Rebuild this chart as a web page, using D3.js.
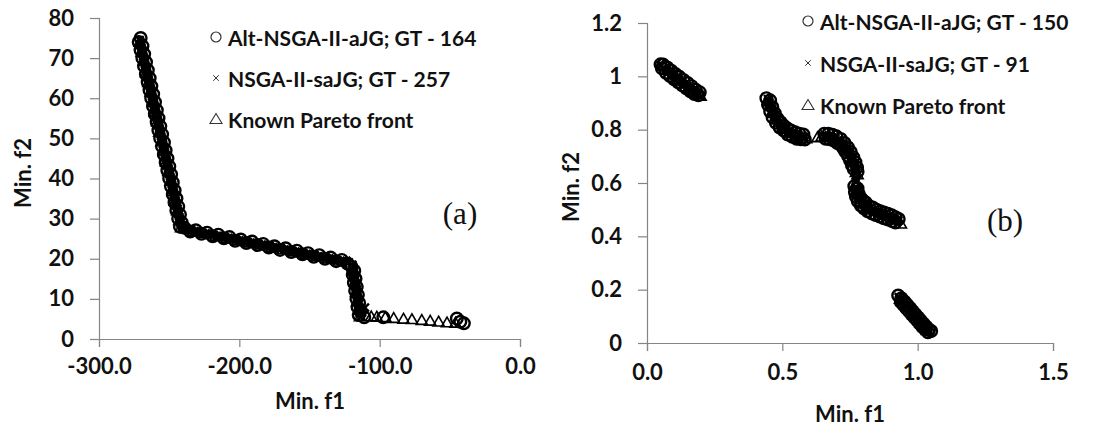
<!DOCTYPE html>
<html>
<head>
<meta charset="utf-8">
<script src="https://cdn.jsdelivr.net/npm/d3@7"></script>
<style>
  html, body { margin: 0; padding: 0; background: #fff; }
  svg { display: block; }
</style>
</head>
<body>
<svg id="chart" width="1093" height="425"></svg>
<script>
// ---------------- Panel (a) data ----------------
const legendA = ["Alt-NSGA-II-aJG; GT - 164", "NSGA-II-saJG; GT - 257", "Known Pareto front"];
const xTicksA = [-300, -200, -100, 0];
const yTicksA = [0, 10, 20, 30, 40, 50, 60, 70, 80];

const altA = [
  // steep upper part
  [-270.3,75],[-271.7,74],[-269.0,73],[-270.4,72],[-267.8,71],[-269.1,70],[-266.5,69],[-267.9,68],
  [-265.2,67],[-266.6,66],[-263.9,65],[-265.3,64],[-262.7,63],[-264.0,62],[-261.4,61],[-262.8,60],
  [-260.1,59],[-261.5,58],[-258.8,57],[-260.2,56],[-257.6,55],[-258.9,54],[-256.3,53],[-257.7,52],
  [-255.0,51],[-256.4,50],[-253.7,49],[-255.1,48],[-252.5,47],[-253.8,46],[-251.2,45],[-252.5,44],
  [-249.9,43],[-251.3,42],[-248.6,41],[-250.0,40],[-247.4,39],[-248.7,38],[-246.1,37],[-247.4,36],
  [-244.8,35],[-246.2,34],[-243.5,33],[-244.9,32],[-242.3,31],[-243.6,30],[-241.0,29],[-242.3,28],
  // gentle middle part
  [-239,27.7],[-235,26.8],[-231,27.1],[-227,26.2],[-223,26.5],[-219,25.6],[-215,26.0],[-211,25.1],
  [-207,25.4],[-203,24.5],[-199,24.8],[-195,23.9],[-191,24.3],[-187,23.4],[-183,23.7],[-179,22.8],
  [-175,23.1],[-171,22.2],[-167,22.6],[-163,21.7],[-159,22.0],[-155,21.1],[-151,21.4],[-147,20.5],
  [-143,20.9],[-139,20.0],[-135,20.3],[-131,19.4],[-127,19.7],[-123,18.8],
  // steep lower part
  [-120.1,18],[-118.1,17],[-119.2,16],[-117.2,15],[-118.4,14],[-116.3,13],[-117.5,12],[-115.5,11],
  [-116.6,10],[-114.6,9],[-115.8,8],[-113.7,7],[-114.9,6],
  // tail
  [-111,5.4],[-97.4,5.4],[-45,5.1],[-42.5,4.3],[-40,3.9]
];
const nsgaA = [
  [-271.0,74.5],[-270.4,73.5],[-269.7,72.5],[-269.1,71.5],[-268.5,70.5],[-267.8,69.5],[-267.2,68.5],[-266.5,67.5],
  [-265.9,66.5],[-265.3,65.5],[-264.6,64.5],[-264.0,63.5],[-263.3,62.5],[-262.7,61.5],[-262.1,60.5],[-261.4,59.5],
  [-260.8,58.5],[-260.2,57.5],[-259.5,56.5],[-258.9,55.5],[-258.2,54.5],[-257.6,53.5],[-257.0,52.5],[-256.3,51.5],
  [-255.7,50.5],[-255.1,49.5],[-254.4,48.5],[-253.8,47.5],[-253.1,46.5],[-252.5,45.5],[-251.9,44.5],[-251.2,43.5],
  [-250.6,42.5],[-250.0,41.5],[-249.3,40.5],[-248.7,39.5],[-248.0,38.5],[-247.4,37.5],[-246.8,36.5],[-246.1,35.5],
  [-245.5,34.5],[-244.8,33.5],[-244.2,32.5],[-243.6,31.5],[-242.9,30.5],[-242.3,29.5],[-241.7,28.5],[-241.0,27.5],
  [-240,27.4],[-238,27.3],[-236,27.2],[-234,27.0],[-232,26.9],[-230,26.7],[-228,26.6],[-226,26.4],
  [-224,26.3],[-222,26.2],[-220,26.0],[-218,25.9],[-216,25.7],[-214,25.6],[-212,25.5],[-210,25.3],
  [-208,25.2],[-206,25.0],[-204,24.9],[-202,24.7],[-200,24.6],[-198,24.5],[-196,24.3],[-194,24.2],
  [-192,24.0],[-190,23.9],[-188,23.8],[-186,23.6],[-184,23.5],[-182,23.3],[-180,23.2],[-178,23.0],
  [-176,22.9],[-174,22.8],[-172,22.6],[-170,22.5],[-168,22.3],[-166,22.2],[-164,22.1],[-162,21.9],
  [-160,21.8],[-158,21.6],[-156,21.5],[-154,21.3],[-152,21.2],[-150,21.1],[-148,20.9],[-146,20.8],
  [-144,20.6],[-142,20.5],[-140,20.4],[-138,20.2],[-136,20.1],[-134,19.9],[-132,19.8],[-130,19.6],
  [-128,19.5],[-126,19.4],[-124,19.2],[-122,19.1],
  [-119.5,18.5],[-119.1,17.5],[-118.6,16.5],[-118.2,15.5],[-117.8,14.5],[-117.3,13.5],[-116.9,12.5],
  [-116.5,11.5],[-116.0,10.5],[-115.6,9.5],[-115.2,8.5],[-114.7,7.5],[-114.3,6.5],[-113.9,5.5],
  [-112.5,6.6],[-110.5,7.8]
];
const paretoA = [
  [-271,74],[-269.6,71.6],[-268,69.2],[-266.3,66.4],[-264.8,64],[-263.2,61.6],[-261.6,59],[-260,56.6],
  [-258.5,54.2],[-257,51.6],[-255.4,49.2],[-253.8,46.8],[-252.2,44.2],[-250.6,41.8],[-249,39.4],[-247.5,36.8],
  [-245.9,34.4],[-244.3,32],[-242.7,29.6],[-241.5,27.8],
  [-233,26.9],[-225,26.3],[-217,25.7],[-209,25.2],[-201,24.6],[-193,24.0],[-185,23.5],[-177,22.9],
  [-169,22.3],[-161,21.8],[-153,21.2],[-145,20.7],[-137,20.1],[-129,19.5],[-121.5,19],
  [-118.7,16.8],[-117.8,14.2],[-116.8,11.8],[-116,9.4],[-115,7.2],[-114,5.6],
  [-106,5.6],[-102,5.5],[-96,5.4],[-90,5.2],[-83,5.0],[-77,4.9],[-70,4.7],[-64,4.5],[-58,4.3],[-52,4.1],[-46,4.0]
];

// ---------------- Panel (b) data ----------------
const legendB = ["Alt-NSGA-II-aJG; GT - 150", "NSGA-II-saJG; GT - 91", "Known Pareto front"];
const xTicksB = [0, 0.5, 1.0, 1.5];
const yTicksB = [0, 0.2, 0.4, 0.6, 0.8, 1, 1.2];

const altB = [
  [0.05,1.045],[0.055,1.03],[0.06,1.044],[0.07,1.013],[0.075,1.033],[0.085,1.001],[0.09,1.021],[0.10,0.989],
  [0.105,1.009],[0.115,0.978],[0.12,0.998],[0.13,0.966],[0.135,0.986],[0.145,0.955],[0.15,0.975],[0.16,0.944],
  [0.165,0.963],[0.175,0.934],[0.18,0.950],[0.19,0.929],[0.195,0.94],
  [0.441,0.918],[0.455,0.91],[0.447,0.893],[0.463,0.885],[0.455,0.868],[0.472,0.862],[0.464,0.846],[0.482,0.842],
  [0.476,0.826],[0.494,0.828],[0.49,0.808],[0.505,0.815],[0.505,0.797],[0.518,0.805],[0.52,0.782],[0.532,0.797],
  [0.537,0.773],[0.548,0.79],[0.553,0.766],[0.563,0.785],[0.568,0.764],[0.578,0.782],[0.583,0.763],
  [0.655,0.785],[0.66,0.766],[0.67,0.785],[0.675,0.764],[0.685,0.781],[0.69,0.759],[0.7,0.775],[0.703,0.75],
  [0.716,0.765],[0.716,0.742],[0.73,0.75],[0.726,0.728],[0.742,0.734],[0.734,0.716],[0.753,0.716],[0.743,0.701],
  [0.762,0.697],[0.75,0.685],[0.77,0.678],[0.757,0.667],[0.776,0.658],[0.764,0.652],[0.778,0.642],
  [0.766,0.588],[0.778,0.58],[0.768,0.566],[0.781,0.562],[0.772,0.548],[0.788,0.547],[0.779,0.531],[0.798,0.535],
  [0.79,0.515],[0.808,0.527],[0.802,0.504],[0.82,0.514],[0.815,0.494],[0.834,0.508],[0.83,0.486],[0.848,0.5],
  [0.845,0.48],[0.862,0.494],[0.86,0.474],[0.876,0.489],[0.875,0.468],[0.89,0.485],[0.89,0.463],[0.904,0.479],
  [0.905,0.457],[0.918,0.472],[0.918,0.452],[0.93,0.465],
  [0.928,0.178],[0.94,0.168],[0.938,0.154],[0.952,0.155],[0.948,0.142],[0.962,0.143],[0.958,0.13],[0.972,0.131],
  [0.968,0.119],[0.982,0.119],[0.978,0.107],[0.992,0.107],[0.988,0.095],[1.002,0.096],[0.998,0.084],[1.012,0.084],
  [1.008,0.072],[1.022,0.072],[1.018,0.06],[1.032,0.061],[1.028,0.05],[1.042,0.05],[1.038,0.04],[1.05,0.045]
];
const nsgaB = [
  [0.05,1.04],[0.06,1.032],[0.07,1.025],[0.08,1.017],[0.09,1.009],[0.10,1.001],[0.11,0.994],[0.12,0.986],
  [0.13,0.978],[0.14,0.971],[0.15,0.963],[0.16,0.955],[0.17,0.947],[0.18,0.94],[0.19,0.932],[0.2,0.925],
  [0.447,0.915],[0.452,0.902],[0.457,0.89],[0.462,0.878],[0.467,0.866],[0.472,0.855],[0.478,0.845],[0.484,0.835],
  [0.49,0.826],[0.497,0.817],[0.505,0.808],[0.513,0.8],[0.522,0.793],[0.532,0.787],[0.542,0.782],[0.552,0.778],
  [0.562,0.775],[0.572,0.773],[0.582,0.771],
  [0.655,0.776],[0.665,0.775],[0.675,0.773],[0.685,0.77],[0.695,0.766],[0.705,0.76],[0.714,0.753],[0.722,0.745],
  [0.73,0.736],[0.737,0.727],[0.744,0.717],[0.75,0.707],[0.755,0.697],[0.76,0.686],[0.764,0.675],[0.768,0.664],
  [0.771,0.652],[0.773,0.64],[0.77,0.62],[0.773,0.605],
  [0.772,0.585],[0.774,0.572],[0.777,0.56],[0.781,0.548],[0.786,0.537],[0.793,0.527],[0.801,0.518],[0.81,0.51],
  [0.82,0.503],[0.831,0.497],[0.842,0.492],[0.853,0.487],[0.864,0.483],[0.875,0.478],[0.886,0.474],[0.897,0.47],
  [0.908,0.466],[0.918,0.462],[0.928,0.458],
  [0.93,0.172],[0.94,0.16],[0.95,0.148],[0.96,0.137],[0.97,0.125],[0.98,0.113],[0.99,0.101],[1.0,0.09],
  [1.01,0.078],[1.02,0.066],[1.03,0.055],[1.04,0.045]
];
const paretoB = [
  [0.06,1.04],[0.08,1.025],[0.1,1.008],[0.12,0.99],[0.14,0.972],[0.16,0.955],[0.18,0.94],[0.198,0.926],
  [0.45,0.905],[0.465,0.868],[0.48,0.838],[0.5,0.808],[0.525,0.787],[0.55,0.775],[0.575,0.768],[0.588,0.767],
  [0.63,0.771],[0.645,0.773],[0.66,0.772],[0.7,0.76],[0.735,0.725],[0.76,0.685],[0.772,0.64],[0.778,0.632],
  [0.772,0.6],[0.775,0.57],[0.79,0.53],[0.82,0.503],[0.86,0.48],[0.9,0.462],[0.938,0.447],
  [0.935,0.165],[0.96,0.137],[0.985,0.108],[1.01,0.077],[1.035,0.048]
];

// ---------------- drawing ----------------
const svg = d3.select("#chart");
svg.append("rect").attr("width", 1093).attr("height", 425).attr("fill", "#fff");

const FONT = "Lato, 'Open Sans', sans-serif";
const AXIS_COLOR = "#858585";
const TEXT_COLOR = "#111";
const loc = d3.formatLocale({decimal: ".", thousands: ",", grouping: [3], currency: ["", ""], minus: "-"});

const circlePath = d3.symbol().type(d3.symbolCircle).size(Math.PI * 5.8 * 5.8)();
const crossPath = "M-4,-4L4,4M-4,4L4,-4";
const triPath = "M0,-5.5L5.6,4.2L-5.6,4.2Z";

function drawPanel(cfg) {
  const g = svg.append("g");
  const x = d3.scaleLinear().domain(cfg.xDomain).range(cfg.xRange);
  const y = d3.scaleLinear().domain(cfg.yDomain).range(cfg.yRange);

  const xAxis = g.append("g")
    .attr("transform", `translate(0,${cfg.yRange[0]})`)
    .call(d3.axisBottom(x).tickValues(cfg.xTicks).tickFormat(loc.format(".1f")).tickSizeOuter(0).tickSize(8).tickPadding(cfg.xPad));
  const yAxis = g.append("g")
    .attr("transform", `translate(${cfg.xRange[0]},0)`)
    .call(d3.axisLeft(y).tickValues(cfg.yTicks).tickFormat(cfg.yFmt).tickSizeOuter(0).tickSize(9).tickPadding(16));
  [xAxis, yAxis].forEach(a => {
    a.select(".domain").attr("stroke", AXIS_COLOR).attr("stroke-width", 1.2);
    a.selectAll(".tick line").attr("stroke", AXIS_COLOR).attr("stroke-width", 1.2);
    a.selectAll(".tick text").attr("fill", TEXT_COLOR).style("font-size", "22px")
      .style("font-family", FONT).style("font-weight", "bold");
  });

  // series
  const pts = g.append("g");
  pts.selectAll("path.alt").data(cfg.alt).join("path").attr("class", "alt")
    .attr("d", circlePath).attr("transform", d => `translate(${x(d[0])},${y(d[1])})`)
    .attr("fill", "none").attr("stroke", "#000").attr("stroke-width", 2.4);
  pts.selectAll("path.nsga").data(cfg.nsga).join("path").attr("class", "nsga")
    .attr("d", crossPath).attr("transform", d => `translate(${x(d[0])},${y(d[1])})`)
    .attr("fill", "none").attr("stroke", "#000").attr("stroke-width", 2.4);
  pts.selectAll("path.par").data(cfg.pareto).join("path").attr("class", "par")
    .attr("d", triPath).attr("transform", d => `translate(${x(d[0])},${y(d[1])})`)
    .attr("fill", "none").attr("stroke", "#000").attr("stroke-width", 1.6);

  // axis titles
  g.append("text").attr("x", cfg.xTitle[0]).attr("y", cfg.xTitle[1])
    .attr("text-anchor", "middle").attr("dominant-baseline", "central")
    .style("font-family", FONT).style("font-weight", "bold").style("font-size", "22px")
    .attr("fill", TEXT_COLOR).text("Min. f1");
  g.append("text").attr("transform", `translate(${cfg.yTitle[0]},${cfg.yTitle[1]}) rotate(-90)`)
    .attr("text-anchor", "middle").attr("dominant-baseline", "central")
    .style("font-family", FONT).style("font-weight", "bold").style("font-size", "22px")
    .attr("fill", TEXT_COLOR).text("Min. f2");

  // panel label
  g.append("text").attr("x", cfg.label[0]).attr("y", cfg.label[1])
    .attr("text-anchor", "middle").attr("dominant-baseline", "central")
    .style("font-family", "'Liberation Serif', 'Times New Roman', serif").style("font-size", "31px")
    .attr("fill", TEXT_COLOR).text(cfg.labelText);

  // legend
  const leg = g.append("g").attr("transform", `translate(${cfg.legend[0]},${cfg.legend[1]})`);
  const syms = [
    {d: d3.symbol().type(d3.symbolCircle).size(Math.PI * 5 * 5)(), sw: 1.2},
    {d: "M-2.8,-2.8L2.8,2.8M-2.8,2.8L2.8,-2.8", sw: 1},
    {d: "M0,-5.5L6,4.5L-6,4.5Z", sw: 1.1}
  ];
  cfg.legendLabels.forEach((t, i) => {
    const row = leg.append("g").attr("transform", `translate(0,${i * cfg.legendStep})`);
    row.append("path").attr("d", syms[i].d).attr("fill", "none").attr("stroke", "#333").attr("stroke-width", syms[i].sw);
    row.append("text").attr("x", 12).attr("y", 0).attr("dominant-baseline", "central")
      .style("font-family", FONT).style("font-weight", "bold").style("font-size", "21px")
      .attr("fill", TEXT_COLOR).text(t);
  });
}

drawPanel({
  xDomain: [-300, 0], xRange: [99, 520], yDomain: [0, 80], yRange: [339, 18],
  xTicks: xTicksA, yTicks: yTicksA, yFmt: d3.format("d"), xPad: 11,
  alt: altA, nsga: nsgaA, pareto: paretoA,
  xTitle: [310, 400], yTitle: [22, 173], label: [460, 213], labelText: "(a)",
  legend: [216, 37], legendStep: 41, legendLabels: legendA
});

drawPanel({
  xDomain: [0, 1.5], xRange: [647, 1053], yDomain: [0, 1.2], yRange: [343, 23],
  xTicks: xTicksB, yTicks: yTicksB, yFmt: d => d3.format("~g")(d), xPad: 13,
  alt: altB, nsga: nsgaB, pareto: paretoB,
  xTitle: [850, 413], yTitle: [570, 187], label: [1005, 220], labelText: "(b)",
  legend: [808, 21], legendStep: 42, legendLabels: legendB
});
</script>
</body>
</html>
